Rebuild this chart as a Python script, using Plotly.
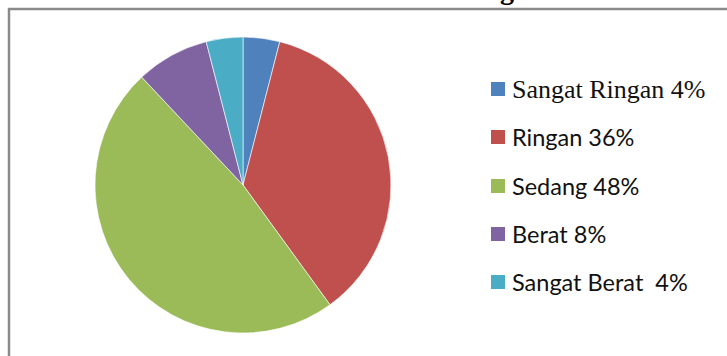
import plotly.graph_objects as go

labels = ["Sangat Ringan", "Ringan", "Sedang", "Berat", "Sangat Berat"]
values = [4, 36, 48, 8, 4]
legend_text = ["Sangat Ringan 4%", "Ringan 36%", "Sedang 48%", "Berat 8%", "Sangat Berat  4%"]
colors = ["#4F81BD", "#C0504D", "#9BBB59", "#8064A2", "#4BACC6"]
title_text = "Gambar 4.1 Aktivitas Fisik Siswa Kategori Status Gizi Lebih"

W, H = 727, 356

fig = go.Figure()
fig.add_trace(go.Pie(
    labels=labels, values=values, sort=False, direction="clockwise", rotation=0,
    marker=dict(colors=colors, line=dict(color="rgba(255,255,255,0.6)", width=1)),
    textinfo="none", hoverinfo="label+percent", showlegend=False,
    domain=dict(x=[95 / W, 391 / W], y=[23 / H, 319 / H]),
))

shapes = [dict(type="rect", xref="paper", yref="paper",
               x0=9 / W, x1=1.05, y0=-0.05, y1=1 - 9 / H,
               line=dict(color="#8A8A8A", width=2.5), fillcolor="rgba(0,0,0,0)", layer="below")]
annotations = []
row_y = [89, 137, 186, 234, 282]
for i, (t, c) in enumerate(zip(legend_text, colors)):
    yc = row_y[i]
    shapes.append(dict(type="rect", xref="paper", yref="paper",
                       x0=491 / W, x1=505 / W, y0=1 - (yc + 7) / H, y1=1 - (yc - 7) / H,
                       line=dict(width=0), fillcolor=c))
    fam = "Liberation Serif" if i == 0 else "Lato"
    annotations.append(dict(xref="paper", yref="paper", x=510 / W, y=1 - yc / H,
                            xanchor="left", yanchor="middle", showarrow=False, text=t,
                            font=dict(family=fam, size=26 if i == 0 else 23.5, color="#111")))

annotations.append(dict(xref="paper", yref="paper", x=400 / W, y=1 - 7.5 / H, xanchor="center",
                        yanchor="bottom", showarrow=False, text="<b>" + title_text + "</b>",
                        font=dict(family="Liberation Serif", size=28, color="#000")))

fig.update_layout(width=W, height=H, margin=dict(l=0, r=0, t=0, b=0),
                  paper_bgcolor="white", plot_bgcolor="white",
                  shapes=shapes, annotations=annotations)
fig.write_html("out.html", config={"displayModeBar": False},
               post_script="document.body.style.margin='0';document.body.style.overflow='hidden';")
